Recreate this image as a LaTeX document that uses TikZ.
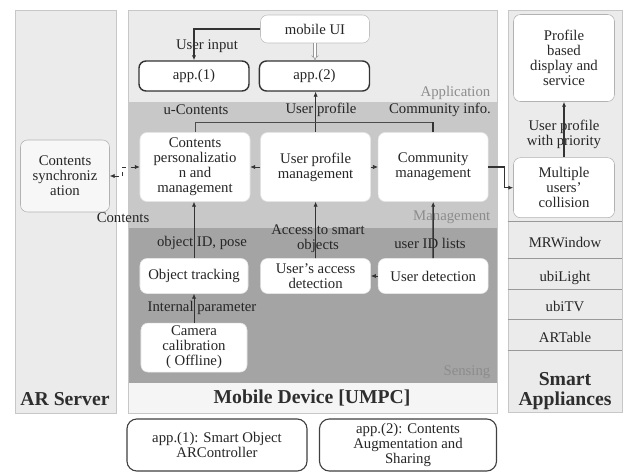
\documentclass[tikz,border=0pt]{standalone}
\usepackage{fontspec}
\setmainfont{Liberation Serif}
\usetikzlibrary{positioning, arrows.meta}
\definecolor{panelgray}{HTML}{EBEBEB}
\definecolor{mgmtgray}{HTML}{C8C8C8}
\definecolor{sensgray}{HTML}{A4A4A4}
\definecolor{layertext}{HTML}{8C8C8C}
\tikzset{
  panel/.style={
    draw=black!22,
    fill=panelgray
  },
  box/.style={
    rectangle,
    rounded corners=5pt,
    fill=white,
    draw=black!10,
    align=center,
    inner sep=1pt,
    text=black!85
  },
  appbox/.style={
    box,
    draw=black!80,
    line width=1pt,
    minimum width=2.75cm,
    minimum height=0.75cm
  },
  mgmt/.style={
    box,
    minimum width=2.75cm,
    minimum height=1.725cm
  },
  sense/.style={
    box,
    minimum width=2.75cm,
    minimum height=0.875cm
  },
  legend/.style={
    box,
    rounded corners=7pt,
    draw=black!75,
    line width=0.8pt,
    minimum width=4.5cm,
    minimum height=1.3cm
  },
  row/.style={
    rectangle,
    inner sep=0pt,
    minimum width=2.85cm,
    minimum height=0.75cm,
    text height=14pt,
    text depth=3pt,
    text=black!85
  },
  lbl/.style={
    align=center,
    inner sep=1pt,
    text=black!85
  },
  layer/.style={
    anchor=east,
    inner sep=1pt,
    text=layertext
  },
  title/.style={
    align=center,
    inner sep=1pt,
    text=black!82,
    font=\fontsize{14}{14}\selectfont\bfseries
  },
  flow/.style={
    draw=black!80,
    line width=0.5pt,
    -{Latex[length=3.5pt,width=3pt]}
  }
}

\begin{document}
\begin{tikzpicture}[x=0.025cm, y=-0.025cm, font=\fontsize{10.5}{10.7}\selectfont]
  \useasboundingbox (0,0) rectangle (632,472);

  % panels and layers
  \draw[panel] (15,10) rectangle (116,413);
  \draw[panel] (128,10) rectangle (497,413);
  \fill[mgmtgray] (128.5,102) rectangle (496.5,228);
  \fill[sensgray] (128.5,228) rectangle (496.5,383);
  \fill[white!96!black] (128.5,383) rectangle (496.5,412.5);
  \draw[panel] (508,10) rectangle (622,412);

  \node[title] (arserver) at (65,399) {AR Server};
  \node[title] (umpc) at (312,398) {Mobile Device [UMPC]};
  \node[title] (smart) at (565,391) {Smart\\Appliances};

  \node[layer] (applayer) at (492,93) {Application};
  \node[layer] (mgmtlayer) at (492,217) {Management};
  \node[layer] (senslayer) at (492,372) {Sensing};

  % application layer
  \node[box, draw=black!25, minimum width=2.725cm, minimum height=0.7cm] (ui) at (315,29) {mobile UI};
  \node[appbox] (appA) at (194,76) {app.(1)};
  \node[appbox, right=0.225cm of appA] (appB) {app.(2)};

  % management layer
  \node[mgmt] (cp) at (195,167) {Contents\\personalizatio\\n and\\management};
  \node[mgmt, right=0.25cm of cp] (upm) {User profile\\management};
  \node[mgmt, right=0.175cm of upm] (cm) {Community\\management};

  % sensing layer
  \node[sense, minimum width=2.7cm] (ot) at (194,276) {Object tracking};
  \node[sense, right=0.3cm of ot] (uad) {User's access\\detection};
  \node[sense, right=0.175cm of uad] (ud) {User detection};
  \node[sense, minimum width=2.65cm, minimum height=1.225cm, below=0.725cm of ot] (cc) {Camera\\calibration\\( Offline)};

  % AR server
  \node[box, fill=white!97!black, draw=black!30, minimum width=2.225cm, minimum height=1.8cm] (cs) at (65,176) {Contents\\synchroniz\\ation};

  % smart appliances
  \node[box, draw=black!30, minimum width=2.525cm, minimum height=2.175cm] (pbd) at (564,58) {Profile\\based\\display and\\service};
  \node[box, draw=black!30, minimum width=2.525cm, minimum height=1.5cm, below=1.39cm of pbd] (muc) {Multiple\\users'\\collision};
  \node[row, minimum height=0.9cm] (mrwindow) at (565,240) {MRWindow};
  \node[row, below=0pt of mrwindow] (ubilight) {ubiLight};
  \node[row, below=0pt of ubilight] (ubitv) {ubiTV};
  \node[row, below=0pt of ubitv] (artable) {ARTable};
  \draw[black!40] (mrwindow.north west) -- (mrwindow.north east);
  \foreach \r in {mrwindow, ubilight, ubitv, artable}
    \draw[black!40] (\r.south west) -- (\r.south east);

  % legend
  \node[legend] (legendA) at (217,445) {app.(1): Smart Object\\ARController};
  \node[legend, minimum width=4.425cm] (legendB) at (408,445) {app.(2): Contents\\Augmentation and\\Sharing};

  % labels
  \node[lbl] (userinput) at (207,46) {User input};
  \node[lbl] (ucontents) at (196,110) {u-Contents};
  \node[lbl] (userprofile) at (321,110) {User profile};
  \node[lbl] (comminfo) at (440,110) {Community info.};
  \node[lbl] (contents) at (123,218) {Contents};
  \node[lbl] (objid) at (202,243) {object ID, pose};
  \node[lbl] (access) at (318,239) {Access to smart\\objects};
  \node[lbl] (useridl) at (430,243) {user ID lists};
  \node[lbl] (intparam) at (202,308) {Internal parameter};
  \node[lbl] (priority) at (564,134) {User profile\\with priority};

  % arrows
  \draw[flow, line width=0.8pt] (ui.west) -| (appA.north);
  \draw[double, draw=black!40, double distance=1.4pt, -{Implies}] (ui.south) -- (ui.south |- appB.north);
  \draw[flow] (upm.north) -- (upm.north |- appB.south);
  \draw[black!70, line width=0.5pt] (cm.north) -- ++(0,-10) -| (cp.north);
  \draw[black!80, line width=1.1pt] (cm.north) -- ++(0,-10);
  \draw[flow] (upm.west) -- (cp.east);
  \draw[flow] (upm.east) -- (cm.west);
  \draw[flow, dashed, {Latex[length=3.5pt,width=3pt]}-{Latex[length=3.5pt,width=3pt]}] (cs.east) -- ++(13,0) |- (cp.west);
  \draw[flow, line width=0.8pt] (cm.east) -- ++(16,0) |- (muc.west);
  \draw[flow, line width=1.1pt] (muc.north) -- (pbd.south);

  \draw[flow] (ot.north) -- (ot.north |- cp.south);
  \draw[flow] (uad.north) -- (upm.south);
  \draw[flow, line width=1.1pt] (ud.north) -- (cm.south);
  \draw[flow] (ud.west) -- (uad.east);
  \draw[flow] (cc.north) -- (cc.north |- ot.south);
\end{tikzpicture}
\end{document}
